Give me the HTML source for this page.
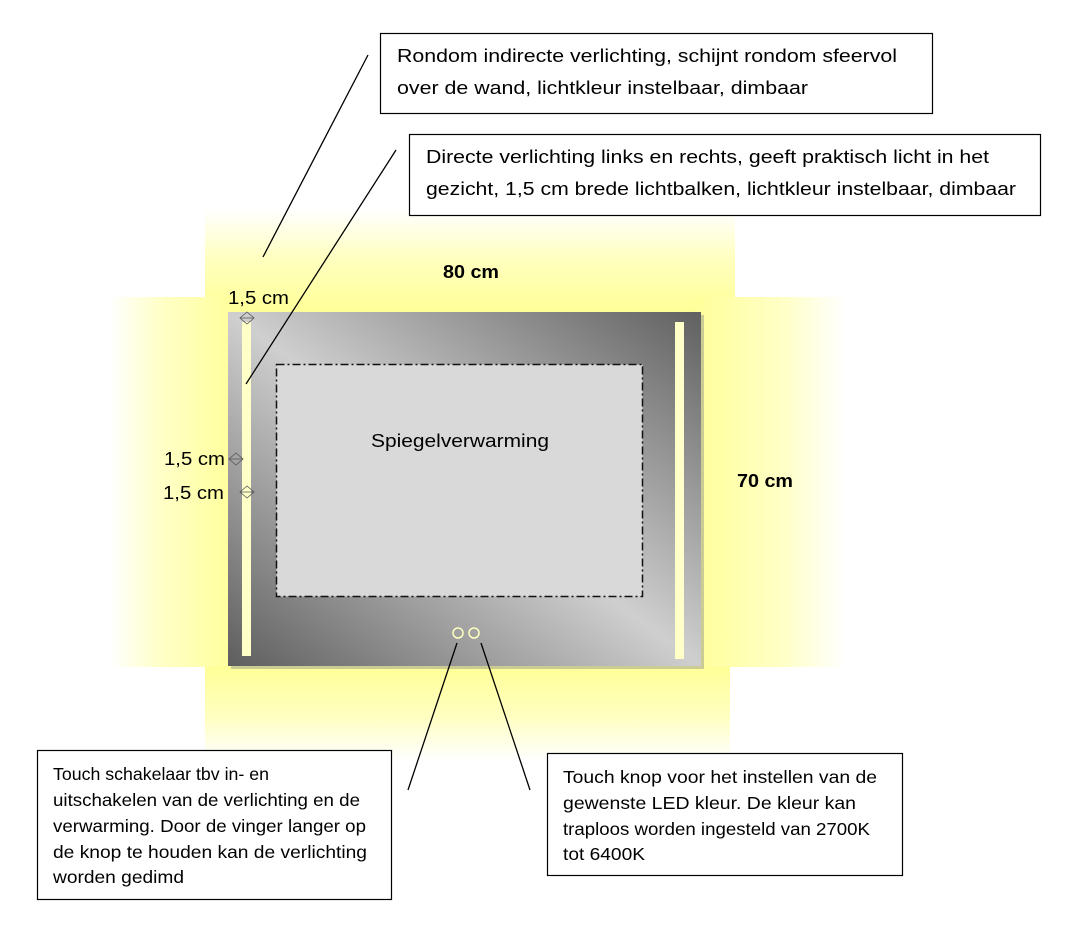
<!DOCTYPE html>
<html><head><meta charset="utf-8"><style>html,body{margin:0;padding:0;background:#fff}svg{display:block}</style></head>
<body>
<svg width="1085" height="929" viewBox="0 0 1085 929" xmlns="http://www.w3.org/2000/svg" font-family="Liberation Sans, sans-serif" fill="#000">
<defs>
<linearGradient id="gt" x1="0" y1="1" x2="0" y2="0"><stop offset="0" stop-color="#ffff8a"/><stop offset="0.6" stop-color="#ffffc0"/><stop offset="1" stop-color="#ffffff"/></linearGradient>
<linearGradient id="gb" x1="0" y1="0" x2="0" y2="1"><stop offset="0" stop-color="#ffff8a"/><stop offset="0.6" stop-color="#ffffc0"/><stop offset="1" stop-color="#ffffff"/></linearGradient>
<linearGradient id="gl" x1="1" y1="0" x2="0" y2="0"><stop offset="0" stop-color="#ffff9a"/><stop offset="0.6" stop-color="#ffffc8"/><stop offset="1" stop-color="#ffffff"/></linearGradient>
<linearGradient id="gr" x1="0" y1="0" x2="1" y2="0"><stop offset="0" stop-color="#ffff9a"/><stop offset="0.6" stop-color="#ffffc8"/><stop offset="1" stop-color="#ffffff"/></linearGradient>
<linearGradient id="gm" x1="0" y1="1" x2="1" y2="0"><stop offset="0" stop-color="#5e5e5e"/><stop offset="0.5" stop-color="#cfcfcf"/><stop offset="1" stop-color="#606060"/></linearGradient>
</defs>
<rect x="205" y="210" width="530" height="120" fill="url(#gt)"/>
<rect x="205" y="650" width="525" height="110" fill="url(#gb)"/>
<rect x="110" y="297" width="125" height="370" fill="url(#gl)"/>
<rect x="695" y="297" width="150" height="370" fill="url(#gr)"/>
<rect x="231" y="315" width="473" height="354" fill="#a8a890" opacity="0.6"/>
<rect x="228" y="312" width="473" height="354" fill="url(#gm)"/>
<rect x="242" y="322" width="9" height="334" fill="#ffffc8"/>
<rect x="675" y="322" width="9" height="337" fill="#ffffc8"/>
<rect x="276.5" y="364.5" width="366" height="232" fill="#d9d9d9" stroke="#111" stroke-width="1.5" stroke-dasharray="8,3,2,3"/>
<circle cx="458" cy="633" r="5" fill="none" stroke="#ffffc0" stroke-width="1.5"/>
<circle cx="474" cy="633" r="5" fill="none" stroke="#ffffc0" stroke-width="1.5"/>
<g stroke="#000" stroke-width="1.3">
<line x1="368" y1="55" x2="263" y2="257"/>
<line x1="396" y1="150" x2="246" y2="384"/>
<line x1="457" y1="643" x2="408" y2="790"/>
<line x1="481" y1="643" x2="530" y2="790"/>
</g>
<g stroke="#555" stroke-width="0.8" fill="none">
<path d="M240 318 L247 312 L254 318 L247 324 Z M240 318 L254 318"/>
<path d="M229 459 L236 453 L243 459 L236 465 Z M229 459 L243 459"/>
<path d="M240 492 L247 486 L254 492 L247 498 Z M240 492 L254 492"/>
</g>
<g font-size="18.5">
<text x="371" y="447" textLength="178" lengthAdjust="spacingAndGlyphs">Spiegelverwarming</text>
<text x="443" y="278" font-weight="bold" textLength="56" lengthAdjust="spacingAndGlyphs">80 cm</text>
<text x="737" y="487" font-weight="bold" textLength="56" lengthAdjust="spacingAndGlyphs">70 cm</text>
<text x="228" y="304" textLength="61" lengthAdjust="spacingAndGlyphs">1,5 cm</text>
<text x="164" y="465" textLength="61" lengthAdjust="spacingAndGlyphs">1,5 cm</text>
<text x="163" y="499" textLength="61" lengthAdjust="spacingAndGlyphs">1,5 cm</text>
</g>
<g fill="#fff" stroke="#000" stroke-width="1.2">
<rect x="380.5" y="33.5" width="552" height="80"/>
<rect x="409.5" y="134.5" width="631" height="81"/>
<rect x="37.5" y="750.5" width="354" height="149"/>
<rect x="547.5" y="753.5" width="355" height="122"/>
</g>
<g font-size="18.5">
<text x="397" y="62" textLength="500" lengthAdjust="spacingAndGlyphs">Rondom indirecte verlichting, schijnt rondom sfeervol</text>
<text x="397" y="94" textLength="411" lengthAdjust="spacingAndGlyphs">over de wand, lichtkleur instelbaar, dimbaar</text>
<text x="426" y="163" textLength="563" lengthAdjust="spacingAndGlyphs">Directe verlichting links en rechts, geeft praktisch licht in het</text>
<text x="426" y="195" textLength="590" lengthAdjust="spacingAndGlyphs">gezicht, 1,5 cm brede lichtbalken, lichtkleur instelbaar, dimbaar</text>
</g>
<g font-size="17.5">
<text x="53" y="780" textLength="216" lengthAdjust="spacingAndGlyphs">Touch schakelaar tbv in- en</text>
<text x="53" y="806" textLength="307" lengthAdjust="spacingAndGlyphs">uitschakelen van de verlichting en de</text>
<text x="53" y="832" textLength="313" lengthAdjust="spacingAndGlyphs">verwarming. Door de vinger langer op</text>
<text x="53" y="858" textLength="314" lengthAdjust="spacingAndGlyphs">de knop te houden kan de verlichting</text>
<text x="53" y="883" textLength="131" lengthAdjust="spacingAndGlyphs">worden gedimd</text>
<text x="563" y="783" textLength="314" lengthAdjust="spacingAndGlyphs">Touch knop voor het instellen van de</text>
<text x="563" y="809" textLength="293" lengthAdjust="spacingAndGlyphs">gewenste LED kleur. De kleur kan</text>
<text x="563" y="835" textLength="307" lengthAdjust="spacingAndGlyphs">traploos worden ingesteld van 2700K</text>
<text x="563" y="860" textLength="82" lengthAdjust="spacingAndGlyphs">tot 6400K</text>
</g>
</svg>
</body></html>
